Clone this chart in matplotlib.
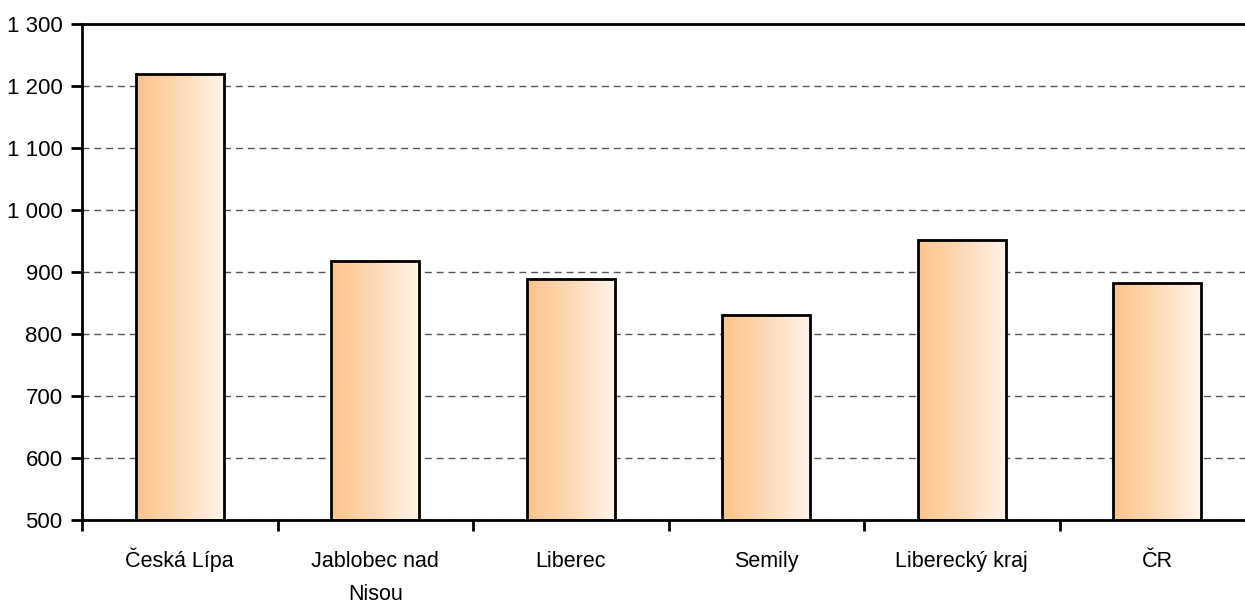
import matplotlib
matplotlib.use("Agg")
import matplotlib.pyplot as plt
import numpy as np
from matplotlib.colors import LinearSegmentedColormap
from matplotlib.ticker import FuncFormatter
from matplotlib.transforms import blended_transform_factory, offset_copy

categories = ["Česká Lípa", "Jablobec nad\nNisou", "Liberec", "Semily", "Liberecký kraj", "ČR"]
values = [1219, 918, 889, 831, 952, 882]
y_ticks = [500, 600, 700, 800, 900, 1000, 1100, 1200, 1300]

plt.rcParams['font.family'] = ['Liberation Sans', 'DejaVu Sans']

fig = plt.figure(figsize=(12.45, 6.03), dpi=100)
ax = fig.add_axes([82/1245, 1-520/603, (1255-82)/1245, (520-24)/603])

cmap = LinearSegmentedColormap.from_list("g", ["#FDC48A", "#FFD9B5", "#FFF4E9"])
grad = np.linspace(0, 1, 256).reshape(1, -1)

x = np.arange(len(categories))
width = 0.45
bars = ax.bar(x, [v - 500 for v in values], bottom=500, width=width,
              facecolor='none', edgecolor='black', linewidth=2, zorder=3)
for b in bars:
    x0 = b.get_x(); x1 = x0 + b.get_width()
    y0 = b.get_y(); y1 = y0 + b.get_height()
    ax.imshow(grad, extent=[x0, x1, y0, y1], aspect='auto', cmap=cmap, zorder=2, interpolation='bilinear')

ax.set_xlim(-0.5, len(categories) - 0.5)
ax.set_ylim(500, 1300)
ax.set_yticks(y_ticks)
ax.yaxis.set_major_formatter(FuncFormatter(lambda v, p: f"{int(v):,}".replace(",", " ")))
ax.yaxis.grid(True, linestyle=(0, (5, 3.5)), color='#555555', linewidth=1, zorder=0)
ax.set_axisbelow(True)

ax.set_xticks([])
ax.set_xticks(np.arange(len(categories) + 1) - 0.5, minor=True)
ax.tick_params(axis='x', which='minor', length=8, width=2, direction='out', labelbottom=False)
ax.tick_params(axis='y', which='major', length=8, width=2, direction='out', labelsize=16, pad=6)

trans = blended_transform_factory(ax.transData, ax.transAxes)
for xi, lab in zip(x, categories):
    for li, line in enumerate(lab.split("\n")):
        t = offset_copy(trans, fig=fig, x=0, y=-(47 + 33 * li), units='dots')
        ax.text(xi, 0, line, transform=t, ha='center', va='baseline', fontsize=15.5, clip_on=False)

for s in ['left', 'bottom', 'top']:
    ax.spines[s].set_linewidth(2)
ax.spines['right'].set_visible(False)

fig.savefig("out.png", dpi=100)
